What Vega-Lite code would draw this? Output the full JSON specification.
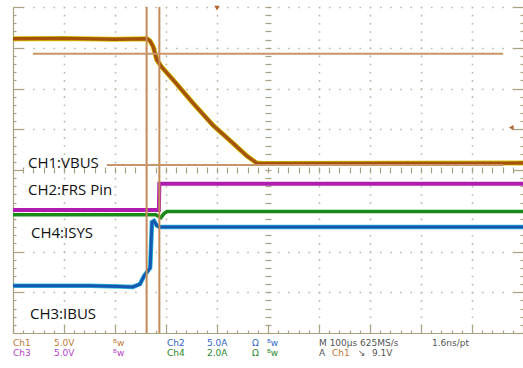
{
  "$schema": "https://vega.github.io/schema/vega-lite/v6.json",
  "width": 510,
  "height": 326,
  "autosize": {"type": "none"},
  "padding": {"left": 13, "top": 7, "right": 0, "bottom": 35},
  "background": "white",
  "config": {"view": {"stroke": null}},
  "datasets": {
    "traces": [
      {"ch": "CH1", "x": 0, "y": 7.22}, {"ch": "CH1", "x": 1.0, "y": 7.23}, {"ch": "CH1", "x": 2.0, "y": 7.21}, {"ch": "CH1", "x": 2.63, "y": 7.22},
      {"ch": "CH1", "x": 2.69, "y": 7.16}, {"ch": "CH1", "x": 2.75, "y": 7.02}, {"ch": "CH1", "x": 2.82, "y": 6.70}, {"ch": "CH1", "x": 2.92, "y": 6.52},
      {"ch": "CH1", "x": 3.14, "y": 6.21}, {"ch": "CH1", "x": 3.53, "y": 5.64}, {"ch": "CH1", "x": 3.92, "y": 5.10}, {"ch": "CH1", "x": 4.31, "y": 4.66},
      {"ch": "CH1", "x": 4.59, "y": 4.34}, {"ch": "CH1", "x": 4.78, "y": 4.17}, {"ch": "CH1", "x": 4.9, "y": 4.16}, {"ch": "CH1", "x": 10, "y": 4.17},
      {"ch": "CH2", "x": 0, "y": 3.02}, {"ch": "CH2", "x": 2.86, "y": 3.02}, {"ch": "CH2", "x": 2.87, "y": 3.66}, {"ch": "CH2", "x": 10, "y": 3.66},
      {"ch": "CH4", "x": 0, "y": 2.90}, {"ch": "CH4", "x": 2.80, "y": 2.90}, {"ch": "CH4", "x": 2.86, "y": 2.86}, {"ch": "CH4", "x": 2.90, "y": 2.83},
      {"ch": "CH4", "x": 2.96, "y": 2.93}, {"ch": "CH4", "x": 3.02, "y": 2.98}, {"ch": "CH4", "x": 10, "y": 2.98},
      {"ch": "CH3", "x": 0, "y": 1.16}, {"ch": "CH3", "x": 1.5, "y": 1.16}, {"ch": "CH3", "x": 2.1, "y": 1.14}, {"ch": "CH3", "x": 2.35, "y": 1.13},
      {"ch": "CH3", "x": 2.49, "y": 1.20}, {"ch": "CH3", "x": 2.57, "y": 1.40}, {"ch": "CH3", "x": 2.63, "y": 1.50}, {"ch": "CH3", "x": 2.69, "y": 1.60},
      {"ch": "CH3", "x": 2.725, "y": 2.72}, {"ch": "CH3", "x": 2.765, "y": 2.75}, {"ch": "CH3", "x": 2.824, "y": 2.63}, {"ch": "CH3", "x": 2.88, "y": 2.60},
      {"ch": "CH3", "x": 10, "y": 2.60}
    ],
    "vcursors": [{"x": 2.62}, {"x": 2.87}],
    "hcursors": [{"x": 0.39, "x2": 9.61, "y": 6.85}, {"x": 1.84, "x2": 9.61, "y": 4.12}],
    "labels": [
      {"text": "CH1:VBUS", "x": 0.294, "y": 4.05},
      {"text": "CH2:FRS Pin", "x": 0.294, "y": 3.387},
      {"text": "CH4:ISYS", "x": 0.353, "y": 2.331},
      {"text": "CH3:IBUS", "x": 0.333, "y": 0.344}
    ],
    "status": [
      {"text": "Ch1", "x": 0, "y": -0.331, "grp": "ch1"},
      {"text": "5.0V", "x": 0.804, "y": -0.331, "grp": "ch1"},
      {"text": "ᴮw", "x": 1.961, "y": -0.331, "grp": "ch1"},
      {"text": "Ch2", "x": 3.02, "y": -0.331, "grp": "ch2"},
      {"text": "5.0A", "x": 3.804, "y": -0.331, "grp": "ch2"},
      {"text": "Ω", "x": 4.686, "y": -0.331, "grp": "ch2"},
      {"text": "ᴮw", "x": 4.98, "y": -0.331, "grp": "ch2"},
      {"text": "M 100µs 625MS/s", "x": 6.0, "y": -0.331, "grp": "gray"},
      {"text": "1.6ns/pt", "x": 8.216, "y": -0.331, "grp": "gray"},
      {"text": "Ch3", "x": 0, "y": -0.564, "grp": "ch3"},
      {"text": "5.0V", "x": 0.804, "y": -0.564, "grp": "ch3"},
      {"text": "ᴮw", "x": 1.961, "y": -0.564, "grp": "ch3"},
      {"text": "Ch4", "x": 3.02, "y": -0.564, "grp": "ch4"},
      {"text": "2.0A", "x": 3.804, "y": -0.564, "grp": "ch4"},
      {"text": "Ω", "x": 4.686, "y": -0.564, "grp": "ch4"},
      {"text": "ᴮw", "x": 4.98, "y": -0.564, "grp": "ch4"},
      {"text": "A", "x": 6.0, "y": -0.564, "grp": "gray"},
      {"text": "Ch1", "x": 6.255, "y": -0.564, "grp": "ch1"},
      {"text": "↘", "x": 6.765, "y": -0.564, "grp": "gray"},
      {"text": "9.1V", "x": 7.039, "y": -0.564, "grp": "gray"}
    ],
    "markers": [{"x": 9.77, "y": 5.04, "shape": "triangle-left"}, {"x": 4.0, "y": 7.97, "shape": "triangle-down"}]
  },
  "resolve": {"axis": {"x": "independent", "y": "independent"}},
  "layer": [
    {
      "data": {"name": "traces"},
      "transform": [{"filter": "datum.ch == 'CH1'"}],
      "mark": {"type": "line", "color": "#d8c400", "strokeWidth": 5},
      "encoding": {
        "x": {"field": "x", "type": "quantitative", "scale": {"domain": [0, 10], "nice": false, "zero": false},
          "axis": {"orient": "bottom", "title": null, "labels": false, "grid": false,
            "values": [0,0.2,0.4,0.6,0.8,1,1.2,1.4,1.6,1.8,2,2.2,2.4,2.6,2.8,3,3.2,3.4,3.6,3.8,4,4.2,4.4,4.6,4.8,5,5.2,5.4,5.6,5.8,6,6.2,6.4,6.6,6.8,7,7.2,7.4,7.6,7.8,8,8.2,8.4,8.6,8.8,9,9.2,9.4,9.6,9.8,10],
            "domain": true, "domainColor": "#a8a284", "domainWidth": 1.2,
            "ticks": true, "tickColor": "#a8a284", "tickWidth": 1.2,
            "tickSize": {"condition": {"test": "abs(datum.value - round(datum.value)) < 0.01", "value": -8}, "value": -3}}},
        "y": {"field": "y", "type": "quantitative", "scale": {"domain": [0, 8], "nice": false, "zero": false},
          "axis": {"orient": "left", "title": null, "labels": false, "grid": false,
            "values": [0,0.2,0.4,0.6,0.8,1,1.2,1.4,1.6,1.8,2,2.2,2.4,2.6,2.8,3,3.2,3.4,3.6,3.8,4,4.2,4.4,4.6,4.8,5,5.2,5.4,5.6,5.8,6,6.2,6.4,6.6,6.8,7,7.2,7.4,7.6,7.8,8],
            "domain": true, "domainColor": "#a8a284", "domainWidth": 1.2,
            "ticks": true, "tickColor": "#a8a284", "tickWidth": 1.2,
            "tickSize": {"condition": {"test": "abs(datum.value - round(datum.value)) < 0.01", "value": -10}, "value": -3}}}
      }
    },
    {
      "data": {"name": "traces"},
      "transform": [{"filter": "datum.ch == 'CH1'"}],
      "mark": {"type": "line", "color": "#a4520c", "strokeWidth": 3.4},
      "encoding": {
        "x": {"field": "x", "type": "quantitative", "scale": {"domain": [0, 10], "nice": false, "zero": false}, "axis": null},
        "y": {"field": "y", "type": "quantitative", "scale": {"domain": [0, 8], "nice": false, "zero": false},
          "axis": {"orient": "right", "title": null, "labels": false, "domain": false, "grid": false,
            "values": [0,0.2,0.4,0.6,0.8,1,1.2,1.4,1.6,1.8,2,2.2,2.4,2.6,2.8,3,3.2,3.4,3.6,3.8,4,4.2,4.4,4.6,4.8,5,5.2,5.4,5.6,5.8,6,6.2,6.4,6.6,6.8,7,7.2,7.4,7.6,7.8,8],
            "ticks": true, "tickColor": "#a8a284", "tickWidth": 1.2,
            "tickSize": {"condition": {"test": "abs(datum.value - round(datum.value)) < 0.01", "value": -10}, "value": -3}}}
      }
    },
    {
      "data": {"name": "traces"},
      "transform": [{"filter": "datum.ch == 'CH2'"}],
      "mark": {"type": "line", "color": "#b01cb0", "strokeWidth": 4},
      "encoding": {
        "x": {"field": "x", "type": "quantitative", "scale": {"domain": [0, 10], "nice": false, "zero": false},
          "axis": {"orient": "bottom", "offset": -160, "title": null, "labels": false, "domain": false, "grid": false,
            "values": [0,0.2,0.4,0.6,0.8,1,1.2,1.4,1.6,1.8,2,2.2,2.4,2.6,2.8,3,3.2,3.4,3.6,3.8,4,4.2,4.4,4.6,4.8,5,5.2,5.4,5.6,5.8,6,6.2,6.4,6.6,6.8,7,7.2,7.4,7.6,7.8,8,8.2,8.4,8.6,8.8,9,9.2,9.4,9.6,9.8,10],
            "ticks": true, "tickColor": "#a8a284", "tickWidth": 1.2, "tickSize": -6}},
        "y": {"field": "y", "type": "quantitative", "scale": {"domain": [0, 8], "nice": false, "zero": false}, "axis": null}
      }
    },
    {
      "data": {"name": "traces"},
      "transform": [{"filter": "datum.ch == 'CH4'"}],
      "mark": {"type": "line", "color": "#188a18", "strokeWidth": 3.5},
      "encoding": {
        "x": {"field": "x", "type": "quantitative", "scale": {"domain": [0, 10], "nice": false, "zero": false}, "axis": null},
        "y": {"field": "y", "type": "quantitative", "scale": {"domain": [0, 8], "nice": false, "zero": false},
          "axis": {"orient": "left", "offset": -252, "title": null, "labels": false, "domain": false, "grid": false,
            "values": [0,0.2,0.4,0.6,0.8,1,1.2,1.4,1.6,1.8,2,2.2,2.4,2.6,2.8,3,3.2,3.4,3.6,3.8,4,4.2,4.4,4.6,4.8,5,5.2,5.4,5.6,5.8,6,6.2,6.4,6.6,6.8,7,7.2,7.4,7.6,7.8,8],
            "ticks": true, "tickColor": "#a8a284", "tickWidth": 1.2, "tickSize": -6}}
      }
    },
    {
      "data": {"name": "traces"},
      "transform": [{"filter": "datum.ch == 'CH3'"}],
      "mark": {"type": "line", "color": "#2cb8d8", "strokeWidth": 4.5},
      "encoding": {
        "x": {"field": "x", "type": "quantitative", "scale": {"domain": [0, 10], "nice": false, "zero": false},
          "axis": {"orient": "top", "title": null, "labels": false, "domain": false, "ticks": false,
            "values": [1, 2, 3, 4, 6, 7, 8, 9],
            "grid": true, "gridColor": "#bcb8a4", "gridWidth": 1.6, "gridDash": [1.6, 6.55], "gridDashOffset": 0.8}},
        "y": {"field": "y", "type": "quantitative", "scale": {"domain": [0, 8], "nice": false, "zero": false},
          "axis": {"orient": "left", "title": null, "labels": false, "domain": false, "ticks": false,
            "values": [1, 2, 3, 5, 6, 7, 8],
            "grid": true, "gridColor": "#bcb8a4", "gridWidth": 1.6, "gridDash": [1.6, 8.6], "gridDashOffset": 0.8}}
      }
    },
    {
      "data": {"name": "traces"},
      "transform": [{"filter": "datum.ch == 'CH3'"}],
      "mark": {"type": "line", "color": "#1458b4", "strokeWidth": 3},
      "encoding": {
        "x": {"field": "x", "type": "quantitative", "scale": {"domain": [0, 10], "nice": false, "zero": false}, "axis": null},
        "y": {"field": "y", "type": "quantitative", "scale": {"domain": [0, 8], "nice": false, "zero": false}, "axis": null}
      }
    },
    {
      "mark": {"type": "rule", "color": "#a8a284", "strokeWidth": 1.2},
      "encoding": {"x": {"datum": 5, "type": "quantitative", "scale": {"domain": [0, 10], "nice": false, "zero": false}, "axis": null}}
    },
    {
      "mark": {"type": "rule", "color": "#a8a284", "strokeWidth": 1.2},
      "encoding": {"y": {"datum": 4, "type": "quantitative", "scale": {"domain": [0, 8], "nice": false, "zero": false}, "axis": null}}
    },
    {
      "data": {"name": "vcursors"},
      "mark": {"type": "rule", "color": "#c48a58", "strokeWidth": 2},
      "encoding": {"x": {"field": "x", "type": "quantitative", "scale": {"domain": [0, 10], "nice": false, "zero": false}, "axis": null}}
    },
    {
      "data": {"name": "hcursors"},
      "mark": {"type": "rule", "color": "#c8966a", "strokeWidth": 2},
      "encoding": {
        "x": {"field": "x", "type": "quantitative", "scale": {"domain": [0, 10], "nice": false, "zero": false}, "axis": null},
        "x2": {"field": "x2"},
        "y": {"field": "y", "type": "quantitative", "scale": {"domain": [0, 8], "nice": false, "zero": false}, "axis": null}
      }
    },
    {
      "data": {"name": "markers"},
      "mark": {"type": "point", "filled": true, "color": "#b4662a", "size": 30, "opacity": 1},
      "encoding": {
        "x": {"field": "x", "type": "quantitative", "scale": {"domain": [0, 10], "nice": false, "zero": false}, "axis": null},
        "y": {"field": "y", "type": "quantitative", "scale": {"domain": [0, 8], "nice": false, "zero": false}, "axis": null},
        "shape": {"field": "shape", "type": "nominal", "scale": {"domain": ["triangle-left", "triangle-down"], "range": ["triangle-left", "triangle-down"]}, "legend": null}
      }
    },
    {
      "data": {"name": "labels"},
      "mark": {"type": "text", "align": "left", "baseline": "alphabetic", "font": "Open Sans", "fontSize": 15, "color": "#111111"},
      "encoding": {
        "x": {"field": "x", "type": "quantitative", "scale": {"domain": [0, 10], "nice": false, "zero": false}, "axis": null},
        "y": {"field": "y", "type": "quantitative", "scale": {"domain": [0, 8], "nice": false, "zero": false}, "axis": null},
        "text": {"field": "text"}
      }
    },
    {
      "data": {"name": "status"},
      "mark": {"type": "text", "align": "left", "baseline": "alphabetic", "font": "DejaVu Sans", "fontSize": 9},
      "encoding": {
        "x": {"field": "x", "type": "quantitative", "scale": {"domain": [0, 10], "nice": false, "zero": false}, "axis": null},
        "y": {"field": "y", "type": "quantitative", "scale": {"domain": [0, 8], "nice": false, "zero": false}, "axis": null},
        "text": {"field": "text"},
        "color": {"field": "grp", "type": "nominal", "legend": null,
          "scale": {"domain": ["ch1", "ch2", "ch3", "ch4", "gray"], "range": ["#c27a3a", "#2f66c8", "#b444c4", "#2a8a2a", "#555555"]}}
      }
    }
  ]
}
